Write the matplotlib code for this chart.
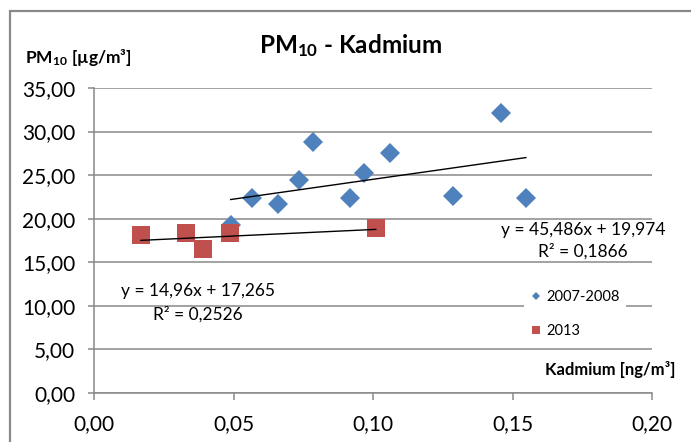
import numpy as np
import matplotlib.pyplot as plt
from matplotlib.lines import Line2D
from matplotlib.patches import Rectangle

plt.rcParams['font.family'] = ['Lato', 'DejaVu Sans']
plt.rcParams['mathtext.default'] = 'regular'

# cadmium [ng/m3] vs PM10 [ug/m3]
cd_0708 = [0.0490, 0.0566, 0.0660, 0.0735, 0.0785, 0.0918, 0.0968, 0.1060, 0.1287, 0.1459, 0.1548]
pm_0708 = [19.3, 22.4, 21.7, 24.5, 28.8, 22.4, 25.3, 27.5, 22.6, 32.1, 22.4]
cd_2013 = [0.0168, 0.0330, 0.0390, 0.0487, 0.1010]
pm_2013 = [18.1, 18.4, 16.5, 18.4, 18.9]

# linear trend lines: slope, intercept, R^2
fit_0708 = (45.486, 19.974, 0.1866)
fit_2013 = (14.96, 17.265, 0.2526)

labels = ['2007-2008', '2013']
yticks = [0, 5, 10, 15, 20, 25, 30, 35]
xticks = [0.0, 0.05, 0.10, 0.15, 0.20]

blue = '#4F81BD'
red = '#C0504D'
gray = '#898989'

W, H = 691, 442


def px(x, y):
    return x / W, 1 - y / H


def dec(v, n=None):
    s = f"{v:.{n}f}" if n is not None else f"{v}"
    return s.replace('.', ',')


fig = plt.figure(figsize=(W / 100, H / 100), dpi=100)
ax = fig.add_axes([94 / W, 1 - 393 / H, 558 / W, 305 / H])

# chart frame
fig.patches.append(Rectangle((9.5 / W, -0.1), 1.2, 1.1 - 11.5 / H, transform=fig.transFigure,
                             fill=False, edgecolor=gray, lw=1.6))

ax.plot(cd_0708, pm_0708, 'D', color=blue, ms=9.7, mew=0, zorder=3)
ax.plot(cd_2013, pm_2013, 's', color=red, ms=13, mew=0, zorder=3)

for xs, (k, b, r2) in [(cd_0708, fit_0708), (cd_2013, fit_2013)]:
    xx = np.array([min(xs), max(xs)])
    ax.plot(xx, k * xx + b, color='black', lw=1, zorder=4)

ax.set_xlim(0, 0.2)
ax.set_ylim(0, 35)
ax.set_xticks(xticks)
ax.set_yticks(yticks)
ax.set_xticklabels([dec(v, 2) for v in xticks])
ax.set_yticklabels([dec(v, 2) for v in yticks])
ax.yaxis.grid(True, color=gray, lw=1.1)
ax.set_axisbelow(True)
for s in ['top', 'right']:
    ax.spines[s].set_visible(False)
for s in ['left', 'bottom']:
    ax.spines[s].set_color(gray)
    ax.spines[s].set_linewidth(1.1)
ax.tick_params(axis='x', length=5, width=1.1, color=gray, labelsize=15, pad=10)
ax.tick_params(axis='y', length=4.5, width=1.1, color=gray, labelsize=15, pad=9)

# trend line equations
k, b, r2 = fit_0708
fig.text(*px(583, 235), f"y = {dec(k)}x + {dec(b)}", fontsize=12.5, ha='center', va='baseline')
fig.text(*px(583, 257), f"R² = {dec(r2)}", fontsize=12.5, ha='center', va='baseline')
k, b, r2 = fit_2013
fig.text(*px(198, 296), f"y = {dec(k)}x + {dec(b)}", fontsize=12.5, ha='center', va='baseline')
fig.text(*px(198, 320), f"R² = {dec(r2)}", fontsize=12.5, ha='center', va='baseline')

fig.text(*px(351, 53), 'PM$_{10}$ - Kadmium', fontsize=17.5, fontweight='bold', ha='center', va='baseline')
fig.text(*px(25, 63), 'PM$_{10}$ [µg/m³]', fontsize=12.5, fontweight='bold', ha='left', va='baseline')
fig.text(*px(545, 375), 'Kadmium [ng/m³]', fontsize=12, fontweight='bold', ha='left', va='baseline')

handles = [Line2D([], [], marker='D', color=blue, ls='none', ms=4.2, mew=0),
           Line2D([], [], marker='s', color=red, ls='none', ms=5.5, mew=0)]
ax.legend(handles, labels, loc='center left', bbox_to_anchor=px(524, 314), bbox_transform=fig.transFigure,
          fontsize=10.5, frameon=True, facecolor='white', edgecolor='none', framealpha=1, fancybox=False,
          handlelength=0.8, handletextpad=0.35, labelspacing=1.4, borderpad=0.4, borderaxespad=0)

fig.savefig('out.png', dpi=100)
